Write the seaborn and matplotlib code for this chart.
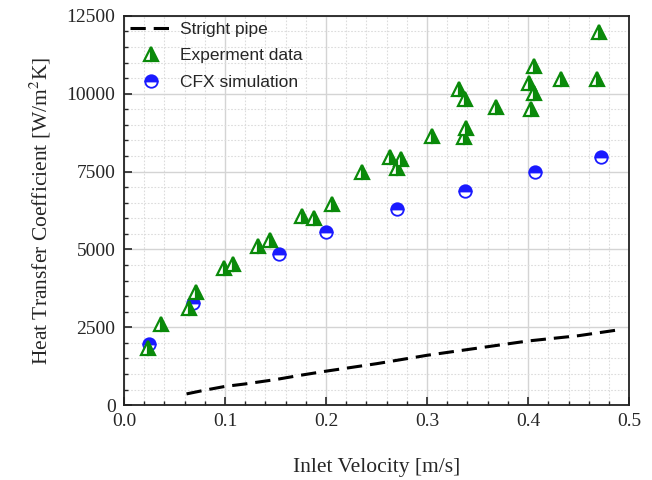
import matplotlib
matplotlib.use("Agg")
import matplotlib.pyplot as plt
import seaborn as sns
import numpy as np
import pandas as pd
from matplotlib.ticker import MultipleLocator

# ---- data ----
pipe_v = [0.062, 0.08, 0.10, 0.12, 0.15, 0.175, 0.20, 0.25, 0.30, 0.35, 0.40, 0.45, 0.488]
pipe_h = [360, 480, 600, 680, 820, 960, 1090, 1330, 1600, 1830, 2060, 2230, 2410]

exp_v = [0.024, 0.037, 0.064, 0.071, 0.099, 0.108, 0.133, 0.145, 0.176, 0.188, 0.206,
         0.236, 0.263, 0.274, 0.270, 0.305, 0.332, 0.338, 0.337, 0.339, 0.368,
         0.401, 0.403, 0.406, 0.406, 0.433, 0.468, 0.470]
exp_h = [1850, 2600, 3110, 3620, 4390, 4540, 5115, 5310, 6083, 6018, 6446,
         7496, 7960, 7894, 7605, 8650, 10163, 9842, 8621, 8910, 9585,
         10356, 9510, 10015, 10902, 10474, 10474, 11994]

cfx_v = [0.025, 0.068, 0.153, 0.200, 0.270, 0.338, 0.407, 0.472]
cfx_h = [1950, 3290, 4860, 5550, 6290, 6860, 7500, 7960]

x_ticks = [0.0, 0.1, 0.2, 0.3, 0.4, 0.5]
y_ticks = [0, 2500, 5000, 7500, 10000, 12500]

sns.set_style("white")
plt.rcParams['mathtext.fontset'] = 'stix'

fig = plt.figure(figsize=(6.52, 4.8), dpi=100)
ax = fig.add_axes([0.190, 0.156, 0.775, 0.811])

pipe_df = pd.DataFrame({"v": pipe_v, "h": pipe_h})
exp_df = pd.DataFrame({"v": exp_v, "h": exp_h})
cfx_df = pd.DataFrame({"v": cfx_v, "h": cfx_h})

sns.lineplot(data=pipe_df, x="v", y="h", ax=ax, color="black", linewidth=2.2,
             linestyle=(0, (5, 2.6)), estimator=None, sort=False, label="Stright pipe",
             zorder=3)
sns.lineplot(data=exp_df, x="v", y="h", ax=ax, color="#0a8a0a", linestyle="",
             marker="^", markersize=10, fillstyle="right", markerfacecolor="#0a8a0a",
             markerfacecoloralt="white", markeredgecolor="#0a8a0a", markeredgewidth=1.6,
             estimator=None, sort=False, label="Experment data", zorder=5)
sns.lineplot(data=cfx_df, x="v", y="h", ax=ax, color="#1a1aff", linestyle="",
             marker="o", markersize=9, fillstyle="top", markerfacecolor="#1a1aff",
             markerfacecoloralt="white", markeredgecolor="#1a1aff", markeredgewidth=1.3,
             estimator=None, sort=False, label="CFX simulation", zorder=4)

ax.set_xlim(0, 0.5)
ax.set_ylim(0, 12500)
ax.set_xticks(x_ticks)
ax.set_yticks(y_ticks)
ax.set_xticklabels([f"{t:.1f}" for t in x_ticks])
ax.set_yticklabels([str(t) for t in y_ticks])
ax.xaxis.set_minor_locator(MultipleLocator(0.02))
ax.yaxis.set_minor_locator(MultipleLocator(500))

ax.grid(which="major", color="#d4d4d4", linewidth=1.0, linestyle="-")
ax.grid(which="minor", color="#dcdcdc", linewidth=0.8, linestyle=(0, (1.5, 1.5)))
ax.set_axisbelow(True)

for s in ax.spines.values():
    s.set_color("#222222")
    s.set_linewidth(1.3)

serif = "Liberation Serif"
ax.tick_params(which="major", direction="in", length=6, width=1.2, bottom=True, left=True,
               top=False, right=False, labelsize=14, pad=6)
ax.tick_params(which="minor", direction="in", length=3, width=1.0, bottom=True, left=True,
               top=False, right=False)
for lab in ax.get_xticklabels() + ax.get_yticklabels():
    lab.set_fontfamily(serif)

ax.set_xlabel("Inlet Velocity [m/s]", fontsize=15.5, family=serif, labelpad=20)
ax.set_ylabel("Heat Transfer Coefficient [W/m$^2$K]", fontsize=15.5, family=serif, labelpad=10)

leg = ax.legend(loc="upper left", frameon=False, prop={"family": "Liberation Sans", "size": 12.5},
                handlelength=2.4, handletextpad=0.5, labelspacing=0.64,
                borderaxespad=0.15, borderpad=0.2)

fig.savefig("out.png", dpi=100)
